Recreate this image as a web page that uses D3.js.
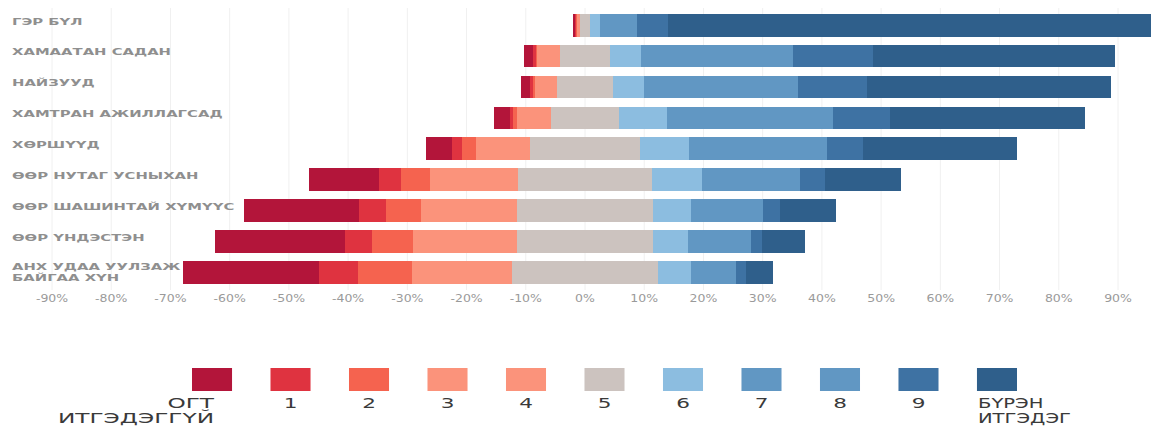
<!DOCTYPE html>
<html><head><meta charset="utf-8">
<script src="https://cdn.jsdelivr.net/npm/d3@7"></script>
<style>body{margin:0;background:#fff}svg{display:block}</style>
</head><body>
<svg id="c" width="1151" height="426"></svg>
<script>
const categories = ["ГЭР БҮЛ","ХАМААТАН САДАН","НАЙЗУУД","ХАМТРАН АЖИЛЛАГСАД","ХӨРШҮҮД","ӨӨР НУТАГ УСНЫХАН","ӨӨР ШАШИНТАЙ ХҮМҮҮС","ӨӨР ҮНДЭСТЭН","АНХ УДАА УУЛЗАЖ\nБАЙГАА ХҮН"];
const levels = ["0","1","2","3","4","5","6","7","8","9","10"];
const legendLabels = ["ОГТ\nИТГЭДЭГГҮЙ","1","2","3","4","5","6","7","8","9","БҮРЭН\nИТГЭДЭГ"];
// percent of respondents per level (series), one value per category
const s0  = [0.4, 1.5, 1.5, 2.7, 4.3, 11.7, 19.5, 22.1, 23.1];
const s1  = [0.2, 0.4, 0.5, 0.6, 1.8, 3.8, 4.5, 4.5, 6.5];
const s2  = [0.2, 0.3, 0.4, 0.7, 2.3, 4.8, 5.9, 6.9, 9.1];
const s3  = [0.3, 2.1, 1.9, 3.0, 5.0, 8.0, 8.8, 9.4, 9.1];
const s4  = [0.2, 1.8, 1.7, 2.6, 4.1, 7.0, 7.5, 8.1, 7.8];
const s5  = [1.6, 8.3, 9.6, 11.6, 18.6, 22.5, 22.9, 23.1, 24.7];
const s6  = [1.7, 5.3, 5.2, 8.0, 8.2, 8.5, 6.4, 5.8, 5.6];
const s7  = [3.0, 13.0, 13.2, 14.2, 11.8, 8.4, 6.2, 5.4, 3.8];
const s8  = [3.2, 12.7, 12.8, 13.8, 11.5, 8.1, 6.0, 5.2, 3.7];
const s9  = [5.3, 13.5, 11.7, 9.7, 6.2, 4.3, 2.9, 2.0, 1.8];
const s10 = [83.9, 40.8, 41.1, 32.9, 25.9, 12.8, 9.3, 7.1, 4.4];
const tickValues = [-90,-80,-70,-60,-50,-40,-30,-20,-10,0,10,20,30,40,50,60,70,80,90];
const colors = ["#b3153a","#df3340","#f5634f","#fb937b","#fb937b","#ccc3bf","#8cbde0","#6197c3","#6197c3","#3e72a3","#2f5f8b"];

const series = [s0,s1,s2,s3,s4,s5,s6,s7,s8,s9,s10];
const svg = d3.select("#c");
const SX = 1.56; // horizontal text stretch of the original

const x = d3.scaleLinear().domain([-90, 90]).range([52, 1118]);
const y = d3.scaleBand().domain(categories).range([9.8, 287.7]).paddingInner(0.27).paddingOuter(0.135);
const color = d3.scaleOrdinal().domain(levels).range(colors);

// gridlines
svg.append("g").selectAll("line").data(tickValues).join("line")
  .attr("x1", d => x(d)).attr("x2", d => x(d))
  .attr("y1", 8).attr("y2", 290)
  .attr("stroke", "#f0f0f0").attr("stroke-width", 1);

// build segments
const segs = [];
categories.forEach((cat, i) => {
  const vals = series.map(s => s[i]);
  let start = -(vals[0]+vals[1]+vals[2]+vals[3]+vals[4] + vals[5]/2);
  vals.forEach((v, k) => {
    segs.push({cat, level: levels[k], x0: start, x1: start + v});
    start += v;
  });
});

svg.append("g").attr("shape-rendering", "crispEdges").selectAll("rect").data(segs).join("rect")
  .attr("x", d => x(d.x0))
  .attr("width", d => Math.max(0, x(d.x1) - x(d.x0)) + 0.5)
  .attr("y", d => y(d.cat))
  .attr("height", y.bandwidth())
  .attr("fill", d => color(d.level));

// category labels
const lab = svg.append("g").selectAll("g").data(categories).join("g")
  .attr("transform", d => `translate(12,${y(d) + y.bandwidth()/2 - 4}) scale(${SX},1)`);
lab.each(function(d){
  const lines = d.split("\n");
  const g = d3.select(this);
  lines.forEach((ln, j) => {
    g.append("text")
      .attr("y", (j - (lines.length-1)/2) * 11 + (lines.length>1?4:0))
      .attr("dy", "0.35em")
      .attr("font-family", "DejaVu Sans, sans-serif")
      .attr("font-weight", "bold")
      .attr("font-size", 9.5)
      .attr("fill", "#8f8f8f")
      .text(ln);
  });
});

// x axis tick labels
svg.append("g").selectAll("text").data(tickValues).join("text")
  .attr("transform", d => `translate(${x(d)},298) scale(1.25,1)`)
  .attr("text-anchor", "middle").attr("dy", "0.35em")
  .attr("font-family", "DejaVu Sans, sans-serif").attr("font-size", 10)
  .attr("fill", "#9a9a9a")
  .text(d => d + "%");

// legend
const lx = d3.scaleBand().domain(levels).range([192, 1017]).paddingInner(0.49).paddingOuter(0);
const lg = svg.append("g");
lg.selectAll("rect").data(levels).join("rect")
  .attr("x", d => lx(d)).attr("y", 368).attr("width", lx.bandwidth()).attr("height", 23)
  .attr("fill", d => color(d));
levels.forEach((lv, i) => {
  const lines = legendLabels[i].split("\n");
  let ax, anchor, sx = 1.6;
  if (i === 0) { ax = lx(lv) + lx.bandwidth()/2 + 2; anchor = "end"; sx = 1.72; }
  else if (i === levels.length - 1) { ax = lx(lv) + 1; anchor = "start"; sx = 1.45; }
  else { ax = lx(lv) + lx.bandwidth()/2; anchor = "middle"; }
  const g = lg.append("g").attr("transform", `translate(${ax},403) scale(${sx},1)`);
  lines.forEach((ln, j) => {
    g.append("text").attr("y", j * 15.5).attr("dy", "0.35em")
      .attr("text-anchor", anchor)
      .attr("font-family", "DejaVu Sans, sans-serif").attr("font-size", 13.5)
      .attr("fill", "#3a3a3a")
      .text(ln);
  });
});
</script>
</body></html>
